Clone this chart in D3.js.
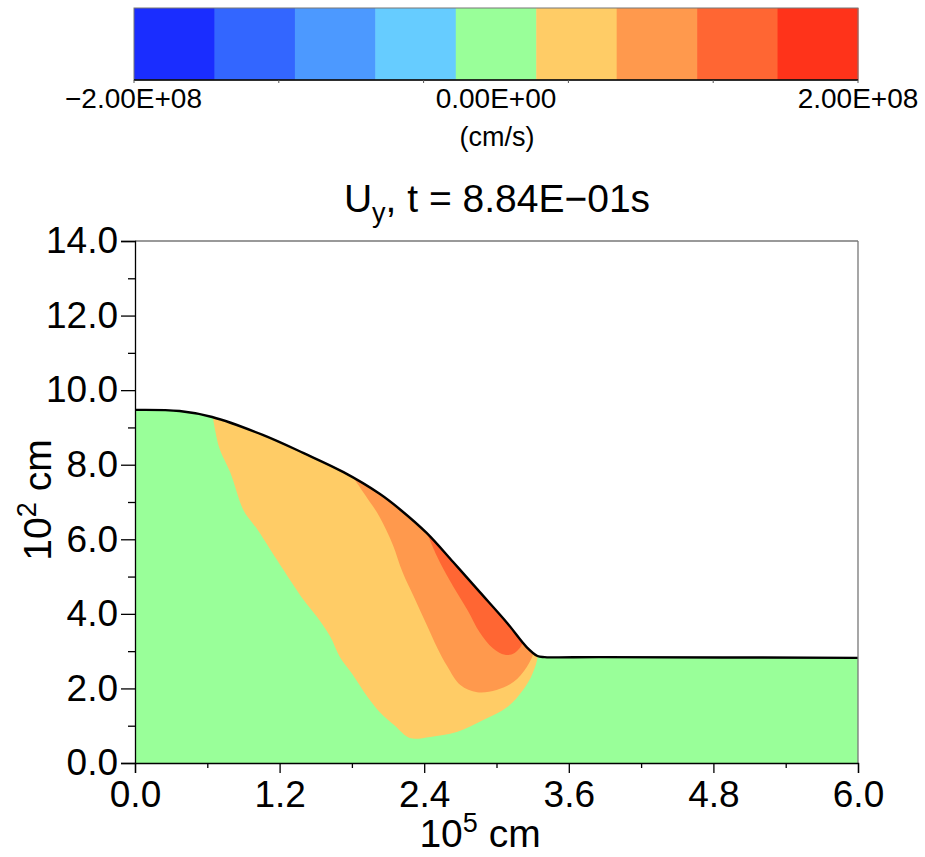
<!DOCTYPE html>
<html lang="en">
<head>
<meta charset="UTF-8">
<title>Uy contour</title>
<script src="https://cdn.jsdelivr.net/npm/d3@7"></script>
<style>
    body{ margin:0; background:#fff; }
    svg text{ font-family: "Liberation Sans", Arial, sans-serif; fill:#000; }
    .axis path, .axis line{ stroke:#000; stroke-width:1.3px; }
</style>
</head>
<body>
<svg id="canvas" width="925" height="857"></svg>
<script>
    // colour levels of the bar, low to high
    const levelColors = ["#1a2dff","#3366ff","#4c99ff","#66ccff","#99ff99","#ffcc66","#ff994d","#ff6633","#ff331a"]
    const barTicks = [-2e8, -1.2e8, -0.4e8, 0.4e8, 1.2e8, 2e8]
    const barLabels = [[-2e8,"\u22122.00E+08"],[0,"0.00E+00"],[2e8,"2.00E+08"]]

    const xTicks = [0, 1.2, 2.4, 3.6, 4.8, 6.0]
    const xMinor = [0.6, 1.8, 3.0, 4.2, 5.4]
    const yTicks = [0, 2, 4, 6, 8, 10, 12, 14]
    const yMinor = [1, 3, 5, 7, 9, 11, 13]

    // free surface (x in 1e5 cm, y in 1e2 cm)
    const surface = [[0,9.47],[0.37,9.44],[0.64,9.28],[1.06,8.80],[1.40,8.31],[1.73,7.80],[2.03,7.22],
        [2.20,6.80],[2.42,6.17],[2.64,5.39],[2.86,4.59],[3.09,3.75],[3.25,3.11],[3.34,2.87],[3.40,2.84],
        [3.86,2.84],[6.0,2.82]]

    // lower edges of the contour bands, each starting and ending just above the surface
    const yellowEdge = [[0.64,9.40],[0.70,8.45],[0.79,7.80],[0.90,6.78],[0.97,6.46],[1.01,6.29],[1.18,5.44],
        [1.40,4.37],[1.51,3.92],[1.62,3.39],[1.70,2.84],[1.80,2.40],[1.93,1.77],[2.03,1.37],[2.16,0.99],
        [2.28,0.67],[2.45,0.70],[2.67,0.83],[2.89,1.15],[3.09,1.50],[3.22,1.96],[3.30,2.41],[3.34,2.95]]
    const orangeEdge = [[1.76,7.90],[1.91,7.19],[2.03,6.60],[2.14,5.85],[2.22,5.12],[2.32,4.42],[2.41,3.78],
        [2.51,3.08],[2.59,2.60],[2.70,2.09],[2.84,1.90],[3.00,1.96],[3.14,2.17],[3.25,2.57],[3.31,3.05]]
    const redEdge = [[2.40,6.35],[2.51,5.52],[2.61,4.91],[2.76,4.10],[2.86,3.51],[2.97,3.08],[3.07,2.90],
        [3.15,2.95],[3.22,3.30]]

    const bands = [
        {edge: yellowEdge, color: levelColors[5]},
        {edge: orangeEdge, color: levelColors[6]},
        {edge: redEdge, color: levelColors[7]}
    ]

    const svg = d3.select("#canvas")
    const mLeft = 135, mRight = 858, mTop = 241, mBottom = 763

    // ---- colour bar ----
    const barX = d3.scaleLinear().domain([-2e8, 2e8]).range([134, 858])
    const barBand = d3.scaleBand().domain(d3.range(levelColors.length)).range([134, 858])
    const bar = svg.append("g")
    bar.selectAll("rect").data(levelColors).enter().append("rect")
        .attr("x", (d,i)=>barBand(i)).attr("y", 8)
        .attr("width", barBand.bandwidth()+0.5).attr("height", 72)
        .attr("fill", d=>d)
    bar.append("rect").attr("x",134).attr("y",8).attr("width",724).attr("height",72)
        .attr("fill","none").attr("stroke","#777").attr("stroke-width",1)
    bar.append("line").attr("x1",134).attr("x2",858).attr("y1",80).attr("y2",80)
        .attr("stroke","#000").attr("stroke-width",1.3)
    bar.selectAll(".btick").data(barTicks).enter().append("line")
        .attr("x1",d=>barX(d)).attr("x2",d=>barX(d)).attr("y1",80).attr("y2",83)
        .attr("stroke","#555")
    bar.selectAll(".blab").data(barLabels).enter().append("text")
        .attr("x", d=> d[0] < 0 ? 202 : barX(d[0]))
        .attr("y", 108)
        .attr("text-anchor", d=> d[0] < 0 ? "end" : "middle")
        .attr("font-size", 28)
        .text(d=>d[1])
    svg.append("text").attr("x",497).attr("y",146).attr("text-anchor","middle")
        .attr("font-size",27).text("(cm/s)")

    // ---- title ----
    const title = svg.append("text").attr("x",497).attr("y",212).attr("text-anchor","middle").attr("font-size",39)
    title.append("tspan").text("U")
    title.append("tspan").attr("font-size",27).attr("dy",10).text("y")
    title.append("tspan").attr("dy",-10).text(", t = 8.84E\u221201s")

    // ---- plot ----
    const x = d3.scaleLinear().domain([0, 6]).range([mLeft, mRight])
    const y = d3.scaleLinear().domain([0, 14]).range([mBottom, mTop])

    const area = d3.area().x(d=>x(d[0])).y0(y(0)).y1(d=>y(d[1])).curve(d3.curveCatmullRom)
    const line = d3.line().x(d=>x(d[0])).y(d=>y(d[1])).curve(d3.curveCatmullRom)

    svg.append("clipPath").attr("id","under").append("path").attr("d", area(surface))

    const plot = svg.append("g").attr("clip-path","url(#under)")
    plot.append("path").attr("d", area(surface)).attr("fill", levelColors[4])

    bands.forEach(b=>{
        const x0 = b.edge[0][0], x1 = b.edge[b.edge.length-1][0]
        // run the top of each band a little above the surface; the clip trims it
        const topPart = surface.filter(p=>p[0] > x0 + 0.02 && p[0] < x1 - 0.02)
            .map(p=>[p[0], p[1] + 0.4]).reverse()
        const poly = b.edge.concat(topPart)
        plot.append("path").attr("d", line(poly) + "Z").attr("fill", b.color)
    })

    svg.append("path").attr("d", line(surface)).attr("fill","none")
        .attr("stroke","#000").attr("stroke-width",2.4)

    // frame (top and right edges grey)
    svg.append("line").attr("x1",mLeft).attr("x2",mRight).attr("y1",mTop).attr("y2",mTop)
        .attr("stroke","#777").attr("stroke-width",1.3)
    svg.append("line").attr("x1",mRight).attr("x2",mRight).attr("y1",mTop).attr("y2",mBottom)
        .attr("stroke","#777").attr("stroke-width",1.3)

    // axes
    const fmt = d3.format(".1f")
    svg.append("g").attr("class","axis").attr("transform",`translate(0,${mBottom})`)
        .call(d3.axisBottom(x).tickValues(xTicks).tickSize(10).tickPadding(8).tickFormat(fmt))
        .call(g=>g.selectAll("text").attr("font-size",37))
    svg.append("g").attr("class","axis").attr("transform",`translate(0,${mBottom})`)
        .call(d3.axisBottom(x).tickValues(xMinor).tickSize(5).tickFormat(""))
        .call(g=>g.select(".domain").remove())
    svg.append("g").attr("class","axis").attr("transform",`translate(${mLeft},0)`)
        .call(d3.axisLeft(y).tickValues(yTicks).tickSize(14).tickPadding(3).tickFormat(fmt))
        .call(g=>g.selectAll("text").attr("font-size",37))
    svg.append("g").attr("class","axis").attr("transform",`translate(${mLeft},0)`)
        .call(d3.axisLeft(y).tickValues(yMinor).tickSize(7).tickFormat(""))
        .call(g=>g.select(".domain").remove())
    svg.selectAll(".axis text").attr("fill","#000").style("font-family",'"Liberation Sans", Arial, sans-serif')

    // axis titles
    const xt = svg.append("text").attr("x",480).attr("y",847).attr("text-anchor","middle").attr("font-size",39)
    xt.append("tspan").text("10")
    xt.append("tspan").attr("font-size",27).attr("dy",-15).text("5")
    xt.append("tspan").attr("dy",15).text(" cm")

    const yt = svg.append("text").attr("transform","translate(51,500) rotate(-90)")
        .attr("text-anchor","middle").attr("font-size",39)
    yt.append("tspan").text("10")
    yt.append("tspan").attr("font-size",27).attr("dy",-15).text("2")
    yt.append("tspan").attr("dy",15).text(" cm")
</script>
</body>
</html>
